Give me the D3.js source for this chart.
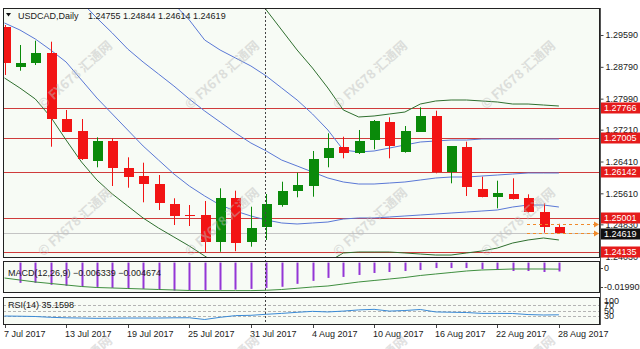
<!DOCTYPE html>
<html>
<head>
<meta charset="utf-8">
<script src="https://cdn.jsdelivr.net/npm/d3@7"></script>
<style>
body { margin: 0; background: #fff; }
text { font-family: "Liberation Sans", Arial, sans-serif; font-size: 9px; fill: #1a1a1a; }
.wm { font-family: "Noto Sans CJK SC", sans-serif; font-size: 13px; font-weight: bold; fill: #bdbdbd; }
</style>
</head>
<body>
<svg id="chart"></svg>
<script>
// daily bars, 7 Jul - 28 Aug 2017
const dates = ["2017-07-07","2017-07-10","2017-07-11","2017-07-12","2017-07-13","2017-07-14","2017-07-17","2017-07-18","2017-07-19","2017-07-20","2017-07-21","2017-07-24","2017-07-25","2017-07-26","2017-07-27","2017-07-28","2017-07-31","2017-08-01","2017-08-02","2017-08-03","2017-08-04","2017-08-07","2017-08-08","2017-08-09","2017-08-10","2017-08-11","2017-08-14","2017-08-15","2017-08-16","2017-08-17","2017-08-18","2017-08-21","2017-08-22","2017-08-23","2017-08-24","2017-08-25","2017-08-28"]

const opens  = [1.29784,1.28793,1.28879,1.29130,1.27478,1.27184,1.26415,1.26933,1.26239,1.26045,1.25844,1.25341,1.25065,1.25057,1.24394,1.25485,1.24394,1.24756,1.25316,1.25668,1.25794,1.26490,1.26767,1.26616,1.26950,1.27395,1.26657,1.27159,1.27554,1.26138,1.26767,1.25711,1.25525,1.25593,1.25485,1.25148,1.24755]
const highs  = [1.29841,1.29339,1.29447,1.29422,1.27705,1.27478,1.27018,1.26993,1.26515,1.26380,1.26070,1.25485,1.25316,1.25417,1.25736,1.25676,1.25273,1.25593,1.25902,1.26128,1.26674,1.27119,1.27033,1.27202,1.27453,1.27521,1.27302,1.27772,1.27687,1.26800,1.26908,1.26028,1.25927,1.25987,1.25585,1.25357,1.24844]
const lows   = [1.28584,1.28692,1.28836,1.26782,1.27151,1.26448,1.26264,1.25794,1.25751,1.25384,1.25190,1.24813,1.24788,1.24135,1.24140,1.24155,1.24268,1.24436,1.25273,1.25510,1.25525,1.26264,1.26490,1.26598,1.26716,1.26490,1.26631,1.27159,1.26113,1.25862,1.25542,1.25510,1.25233,1.25454,1.25128,1.24620,1.24614]
const closes = [1.28879,1.28894,1.29145,1.27478,1.27159,1.26465,1.26933,1.26254,1.26013,1.25844,1.25359,1.25040,1.25050,1.24394,1.25485,1.24368,1.24730,1.25341,1.25676,1.25819,1.26473,1.26742,1.26616,1.26933,1.27428,1.26807,1.27177,1.27554,1.26138,1.26800,1.25761,1.25525,1.25610,1.25467,1.25133,1.24771,1.24619]

// bollinger style bands as drawn
const bandUp2 = [1.34744,1.34618,1.34492,1.34367,1.34241,1.34115,1.33990,1.33788,1.33587,1.33386,1.33135,1.32883,1.32582,1.32230,1.31828,1.31375,1.30822,1.30219,1.29716,1.29213,1.28760,1.28258,1.27705,1.27529,1.27554,1.27604,1.27654,1.27855,1.27931,1.27956,1.27956,1.27931,1.27906,1.27855,1.27855,1.27830,1.27805]
const bandUp1 = [1.32733,1.32607,1.32481,1.32356,1.32230,1.32079,1.31903,1.31677,1.31425,1.31149,1.30772,1.30369,1.29967,1.29464,1.29213,1.29012,1.28811,1.28559,1.28258,1.27956,1.27604,1.27202,1.26699,1.26649,1.26674,1.26749,1.26825,1.26900,1.26925,1.26950,1.26950,1.26975,1.26975,1.26975,1.26975,1.26975,1.26975]
const bandMid = [1.31727,1.31476,1.31224,1.30973,1.30721,1.30420,1.30017,1.29640,1.29238,1.28911,1.28610,1.28308,1.27981,1.27679,1.27403,1.27126,1.26875,1.26674,1.26446,1.26297,1.26146,1.25995,1.25895,1.25844,1.25844,1.25869,1.25895,1.25945,1.25995,1.26020,1.26020,1.26045,1.26070,1.26096,1.26121,1.26121,1.26121]
const bandLo1 = [1.29892,1.29716,1.29490,1.29213,1.28911,1.28459,1.28006,1.27604,1.27202,1.26800,1.26448,1.26096,1.25794,1.25543,1.25316,1.25165,1.25040,1.24939,1.24864,1.24839,1.24864,1.24889,1.24964,1.24990,1.24990,1.25015,1.25040,1.25065,1.25090,1.25115,1.25140,1.25165,1.25191,1.25266,1.25316,1.25316,1.25266]
const bandLo2 = [1.28509,1.28258,1.27981,1.27529,1.26950,1.26397,1.25945,1.25593,1.25291,1.24989,1.24738,1.24512,1.24286,1.24034,1.23783,1.23557,1.23380,1.23280,1.23305,1.23431,1.23632,1.23883,1.24110,1.24135,1.24135,1.24135,1.24110,1.24084,1.24059,1.24059,1.24110,1.24160,1.24235,1.24361,1.24437,1.24487,1.24437]

const macdHist   = [null,-0.0144,-0.0144,-0.0158,-0.0165,-0.0173,-0.0173,-0.0180,-0.0187,-0.0187,-0.0194,-0.0199,-0.0199,-0.0198,-0.0194,-0.0192,-0.0187,-0.0180,-0.0172,-0.0151,-0.0130,-0.0109,-0.0102,-0.0088,-0.0074,-0.0067,-0.0060,-0.0053,-0.0039,-0.0039,-0.0039,-0.0046,-0.0053,-0.0060,-0.0060,-0.0067,-0.006339]
const macdSignal = [-0.01096,-0.01238,-0.01379,-0.01486,-0.01592,-0.01699,-0.01770,-0.01805,-0.01840,-0.01876,-0.01911,-0.01947,-0.01982,-0.01990,-0.01990,-0.01990,-0.01990,-0.01968,-0.01911,-0.01826,-0.01734,-0.01663,-0.01521,-0.01379,-0.01273,-0.01167,-0.01060,-0.00918,-0.00812,-0.00706,-0.00599,-0.00528,-0.00493,-0.00457,-0.00457,-0.00457,-0.004674]
const rsi = [31,30.3,29.3,26.5,24.8,24,23,23.4,24,24,24,24.8,25,19,26.5,32.4,33.4,37,40,43.8,47,45,48,52,54,48,50,53.5,45,44,43,40,40,39.7,36,34.5,35.16]

const priceTicks = [1.29590,1.28790,1.27990,1.27210,1.26410,1.25610,1.24830,1.24030]
const levels = [1.27766,1.27005,1.26142,1.25001,1.24135]
const bid = 1.24619
const pending = [1.24830,1.24619]
const rsiLevels = [70,50,30]
const labelEvery = 4

const W = 640, H = 349
const plotL = 3, plotR = 600
const main = {top: 8, bottom: 258}
const macdP = {top: 261, bottom: 293}
const rsiP = {top: 297, bottom: 325}
const bg = "#f7fbf5"

const svg = d3.select("#chart").attr("width", W).attr("height", H)
svg.append("rect").attr("width", W).attr("height", H).attr("fill", "#fff")

const parse = d3.timeParse("%Y-%m-%d")
const fmtDate = d3.timeFormat("%-d %b %Y")
const idx = d3.range(dates.length)

const x = d3.scalePoint().domain(idx).range([4.5, 558.9])
const y = d3.scaleLinear().domain([1.23984, 1.30269]).range([main.bottom, main.top])
const yM = d3.scaleLinear().domain([-0.0216, 0.0011]).range([macdP.bottom, macdP.top])
const yR = d3.scaleLinear().domain([0, 100]).range([325, 296])

const sx = v => Math.round(v) + 0.5

function panel(p, id) {
	svg.append("clipPath").attr("id", id)
	  .append("rect").attr("x", plotL).attr("y", p.top).attr("width", plotR - plotL).attr("height", p.bottom - p.top)
	svg.append("rect")
		.attr("x", plotL).attr("y", p.top)
		.attr("width", plotR - plotL).attr("height", p.bottom - p.top)
		.attr("fill", bg)
	return svg.append("g").attr("clip-path", `url(#${id})`)
}

const gMain = panel(main, "clipMain")
const gMacd = panel(macdP, "clipMacd")
const gRsi = panel(rsiP, "clipRsi")

//Level lines
gMain.selectAll(".lvl")
	.data(levels)
	.enter()
	.append("line")
		.attr("x1", plotL).attr("x2", plotR)
		.attr("y1", d => sx(y(d))).attr("y2", d => sx(y(d)))
		.attr("stroke", "#cf3b3b")
		.attr("stroke-width", 1)

gMain.append("line")
	.attr("x1", plotL).attr("x2", plotR)
	.attr("y1", sx(y(bid))).attr("y2", sx(y(bid)))
	.attr("stroke", "#c4c4c4")

//Bands
const bands = [
	{v: bandUp2, c: "#2f6f2f"},
	{v: bandUp1, c: "#5a78d6"},
	{v: bandMid, c: "#5a78d6"},
	{v: bandLo1, c: "#5a78d6"},
	{v: bandLo2, c: "#2f6f2f"}
]
const bandLine = d3.line().x((d, i) => x(i)).y(d => y(d))
gMain.selectAll(".band")
	.data(bands)
	.enter()
	.append("path")
		.attr("d", d => bandLine(d.v))
		.attr("fill", "none")
		.attr("stroke", d => d.c)
		.attr("stroke-width", 1)

//Candles
const bars = idx.map(i => ({i, o: opens[i], h: highs[i], l: lows[i], c: closes[i]}))
const col = d => d.c >= d.o ? "#0a8a0a" : "#f21414"
gMain.selectAll(".wick")
	.data(bars)
	.enter()
	.append("line")
		.attr("x1", d => sx(x(d.i))).attr("x2", d => sx(x(d.i)))
		.attr("y1", d => y(d.h)).attr("y2", d => y(d.l))
		.attr("stroke", col)
gMain.selectAll(".body")
	.data(bars)
	.enter()
	.append("rect")
		.attr("x", d => Math.round(x(d.i)) - 4.5)
		.attr("y", d => y(Math.max(d.o, d.c)))
		.attr("width", 10)
		.attr("height", d => Math.max(1, y(Math.min(d.o, d.c)) - y(Math.max(d.o, d.c))))
		.attr("fill", col)
		.attr("shape-rendering", "crispEdges")

//Pending order lines
gMain.selectAll(".pend")
	.data(pending)
	.enter()
	.append("line")
		.attr("x1", 527).attr("x2", 596)
		.attr("y1", d => sx(y(d))).attr("y2", d => sx(y(d)))
		.attr("stroke", "#f08a2a")
		.attr("stroke-dasharray", "3,3")
gMain.selectAll(".arrow")
	.data(pending)
	.enter()
	.append("path")
		.attr("d", d => { let yy = Math.round(y(d)) + 0.5; return `M594,${yy - 3}L599,${yy}L594,${yy + 3}Z` })
		.attr("fill", "#f08a2a")

//MACD
gMacd.selectAll(".hist")
	.data(macdHist.map((v, i) => ({v, i})).filter(d => d.v !== null))
	.enter()
	.append("rect")
		.attr("x", d => Math.round(x(d.i)) - 0.5)
		.attr("y", yM(0))
		.attr("width", 2)
		.attr("height", d => yM(d.v) - yM(0))
		.attr("fill", "#9436d6")
gMacd.append("path")
	.attr("d", d3.line().x((d, i) => x(i)).y(d => yM(d))(macdSignal))
	.attr("fill", "none")
	.attr("stroke", "#3f8f3f")

//RSI
gRsi.selectAll(".rl")
	.data(rsiLevels)
	.enter()
	.append("line")
		.attr("x1", plotL).attr("x2", plotR)
		.attr("y1", d => sx(yR(d))).attr("y2", d => sx(yR(d)))
		.attr("stroke", "#b4b4b4")
		.attr("stroke-dasharray", "3,2")
gRsi.append("path")
	.attr("d", d3.line().x((d, i) => x(i)).y(d => yR(d))(rsi))
	.attr("fill", "none")
	.attr("stroke", "#3a8ad6")

//Month separator
svg.append("line")
	.attr("x1", sx(x(17)) - 1).attr("x2", sx(x(17)) - 1)
	.attr("y1", main.top).attr("y2", rsiP.bottom)
	.attr("stroke", "#444")
	.attr("stroke-dasharray", "2,2")

//Frames
;[main, macdP, rsiP].forEach(p => {
	svg.append("rect")
		.attr("x", plotL + 0.5).attr("y", p.top + 0.5)
		.attr("width", plotR - plotL - 1).attr("height", p.bottom - p.top - 1)
		.attr("fill", "none")
		.attr("stroke", "#222")
})
svg.append("line")
	.attr("x1", plotR + 0.5).attr("x2", plotR + 0.5)
	.attr("y1", main.top).attr("y2", rsiP.bottom)
	.attr("stroke", "#555")

//Price axis
const axisP = d3.axisRight(y)
	.tickValues(priceTicks)
	.tickFormat(d3.format(".5f"))
	.tickSize(3)
	.tickSizeOuter(0)
	.tickPadding(2)
const gAx = svg.append("g")
	.attr("transform", `translate(${plotR + 0.5},0)`)
	.call(axisP)
gAx.select(".domain").remove()
gAx.selectAll("text").attr("font-size", 9).attr("fill", "#1a1a1a").attr("font-family", "Liberation Sans")
gAx.selectAll("line").attr("stroke", "#444")

//Level labels
const lab = svg.selectAll(".lab")
	.data(levels.map(v => ({v, fill: "#e51b1b"})).concat([{v: bid, fill: "#111"}]))
	.enter()
	.append("g")
		.attr("transform", d => `translate(601,${Math.round(y(d.v)) + (d.fill === "#111" ? 1 : 0)})`)
lab.append("rect")
	.attr("x", 0).attr("y", -5.5)
	.attr("width", 39).attr("height", 11)
	.attr("fill", d => d.fill)
lab.append("text")
	.attr("x", 3).attr("dy", "0.35em")
	.style("fill", "#fff")
	.text(d => d3.format(".5f")(d.v))

//MACD scale
svg.append("text").attr("x", 604).attr("y", 268).attr("dy", "0.35em").text("0")
svg.append("text").attr("x", 604).attr("y", 287).attr("dy", "0.35em").text("-0.019905")
svg.selectAll(".mt").data([268, 287]).enter().append("line")
	.attr("x1", 600).attr("x2", 603).attr("y1", d => d + 0.5).attr("y2", d => d + 0.5).attr("stroke", "#444")

//RSI scale
const rsiLabels = [100, 70, 50, 30]
svg.selectAll(".rt")
	.data(rsiLabels)
	.enter()
	.append("text")
		.attr("x", 604)
		.attr("y", d => Math.min(yR(d), 324) + (d === 100 ? 4.5 : 0))
		.attr("dy", "0.35em")
		.text(d => d)

//Date axis
const dateIdx = idx.filter(i => i % labelEvery === 0)
svg.selectAll(".dt")
	.data(dateIdx)
	.enter()
	.append("line")
		.attr("x1", i => sx(x(i))).attr("x2", i => sx(x(i)))
		.attr("y1", rsiP.bottom).attr("y2", rsiP.bottom + 3)
		.attr("stroke", "#444")
svg.selectAll(".dl")
	.data(dateIdx)
	.enter()
	.append("text")
		.attr("x", i => Math.round(x(i)) - 1)
		.attr("y", 336.5)
		.text(i => fmtDate(parse(dates[i])))

//Titles
svg.append("path").attr("d", "M6,13L11,13L8.5,16.5Z").attr("fill", "#111")
svg.append("text").attr("x", 18).attr("y", 18.5).text("USDCAD,Daily")
svg.append("text").attr("x", 88).attr("y", 18.5)
	.text([opens[36], highs[36], lows[36], closes[36]].map(d3.format(".5f")).join(" "))
svg.append("text").attr("x", 8).attr("y", 275.5)
	.text(`MACD(12,26,9) ${d3.format(".6f")(macdHist[36])} ${d3.format(".6f")(macdSignal[36])}`)
svg.append("text").attr("x", 8).attr("y", 307.5)
	.text(`RSI(14) ${d3.format(".4f")(35.1598)}`)

//Watermarks
const wmX = [75, 222, 370, 518]
const wmY = [75, 222, 370]
const wm = []
wmY.forEach(yy => wmX.forEach(xx => wm.push([xx, yy])))
svg.selectAll(".wm")
	.data(wm)
	.enter()
	.append("text")
		.attr("class", "wm")
		.attr("text-anchor", "middle")
		.attr("dy", "0.35em")
		.attr("opacity", 0.45)
		.attr("transform", d => `translate(${d[0]},${d[1]}) rotate(-42)`)
		.text("© FX678 汇通网")
</script>
</body>
</html>
